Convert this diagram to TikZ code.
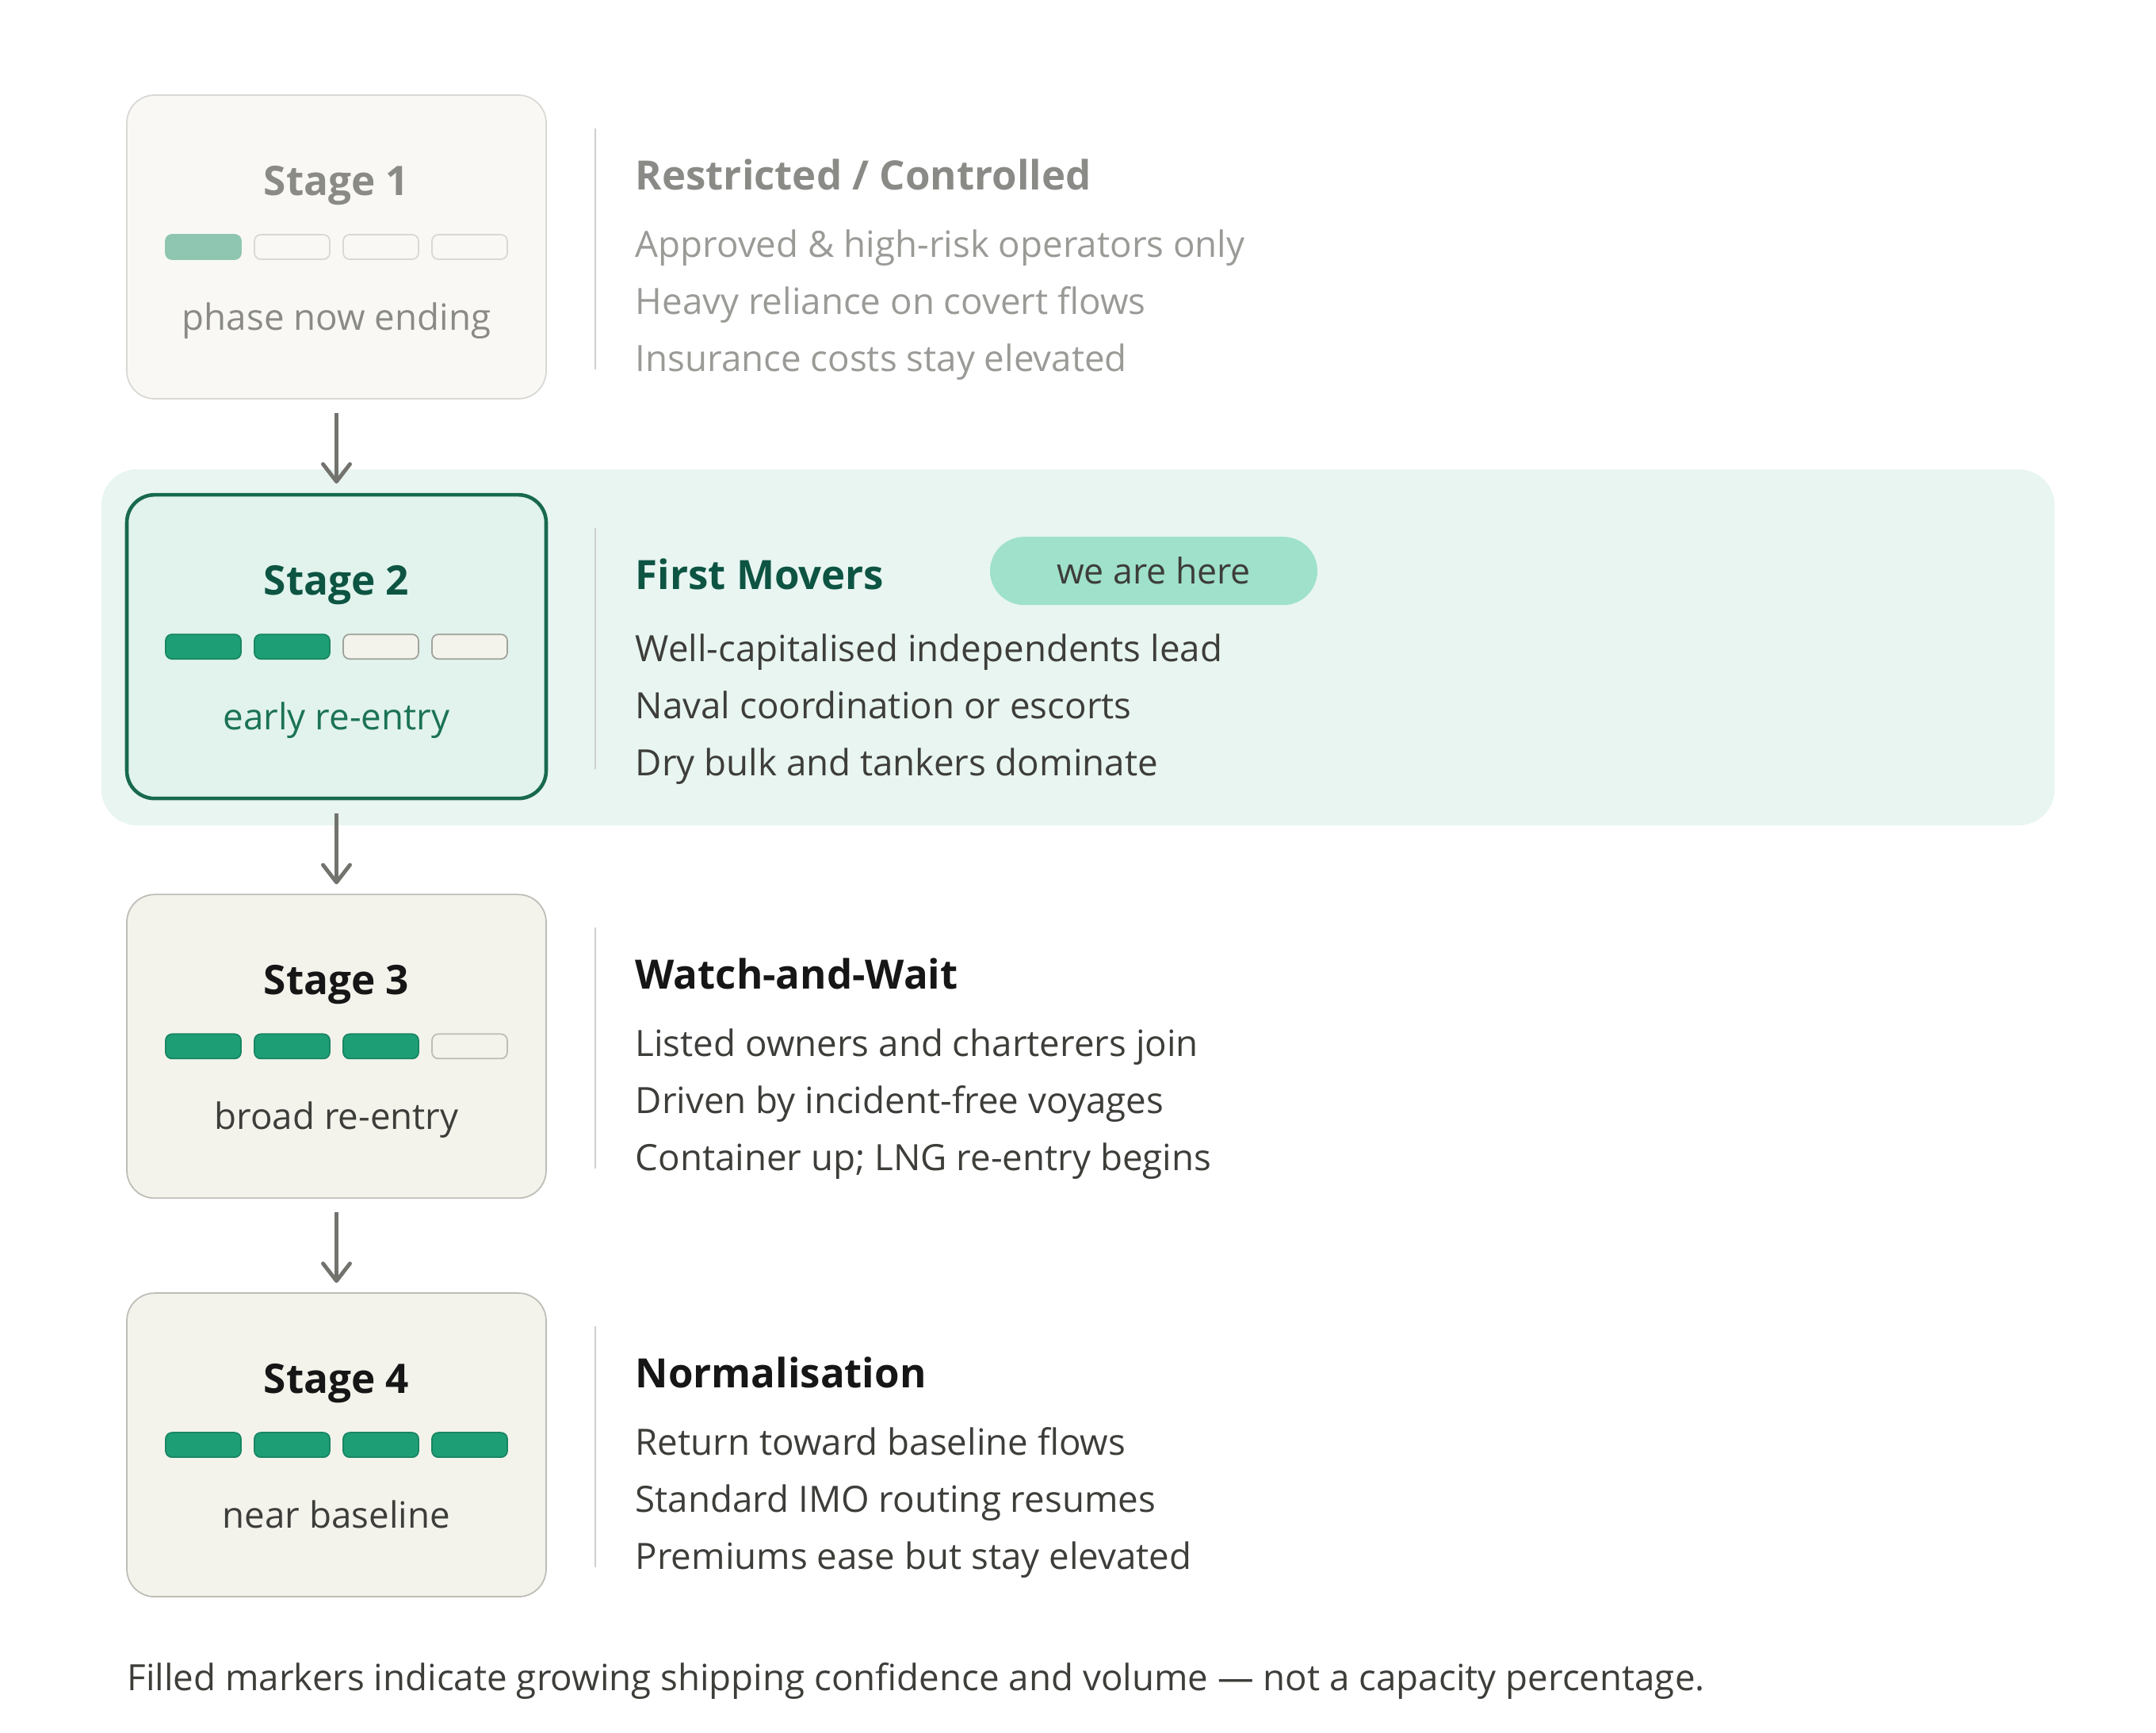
\documentclass[tikz,border=0pt]{standalone}
\usepackage{fontspec}
\setmainfont{Open Sans}
\usetikzlibrary{positioning,arrows.meta,calc,backgrounds}
\definecolor{bandbg}{HTML}{E8F5F0}
\definecolor{oldfill}{HTML}{F9F8F5}
\definecolor{oldline}{HTML}{D8D8D4}
\definecolor{oldtext}{HTML}{8A8A87}
\definecolor{oldbody}{HTML}{9A9A97}
\definecolor{nowfill}{HTML}{E1F3EC}
\definecolor{nowline}{HTML}{17694F}
\definecolor{nowtitle}{HTML}{0D5443}
\definecolor{nowsub}{HTML}{1B7257}
\definecolor{nextfill}{HTML}{F3F3EC}
\definecolor{nextline}{HTML}{BDBDB7}
\definecolor{darktext}{HTML}{161616}
\definecolor{bodytext}{HTML}{3D3D3A}
\definecolor{pipgreen}{HTML}{1E9E75}
\definecolor{piplight}{HTML}{8FC6B1}
\definecolor{pillbg}{HTML}{9FE1CB}
\definecolor{sepline}{HTML}{CFCFCB}
\definecolor{arrowgray}{HTML}{73736E}
\tikzset{
  stagebox/.style={draw=nextline,fill=nextfill,line width=0.5pt,rounded corners=3.5mm,
    minimum width=5.29cm,minimum height=3.83cm,inner sep=0pt},
  oldbox/.style={stagebox,draw=oldline,fill=oldfill},
  nowbox/.style={stagebox,draw=nowline,fill=nowfill,line width=1.3pt},
  pip/.style={draw=nextline,fill=nextfill,line width=0.5pt,rounded corners=0.8mm,
    minimum width=9.5mm,minimum height=3.1mm,inner sep=0pt,node distance=11.2mm,on grid},
  pipon/.style={pip,draw=pipgreen!85!black,fill=pipgreen},
  stitle/.style={anchor=base,font=\fontsize{14.6}{18}\selectfont\bfseries,text=darktext,inner sep=0pt},
  ssub/.style={anchor=base,font=\fontsize{13}{15}\selectfont,text=bodytext,inner sep=0pt},
  htitle/.style={anchor=base west,font=\fontsize{14.5}{18}\selectfont\bfseries,text=darktext,inner sep=0pt},
  hbody/.style={anchor=base west,align=left,font=\fontsize{13}{20.5}\selectfont,text=bodytext,inner sep=0pt},
  sep/.style={draw=sepline,line width=0.55pt},
  flow/.style={draw=arrowgray,line width=1.4pt,-{Straight Barb[round,length=2.2mm,width=3.4mm]},
    shorten <=1.7mm,shorten >=1.2mm},
}

\begin{document}
\begin{tikzpicture}
  \useasboundingbox (0,0) rectangle (27.2,-21.85);
  % stage boxes
  \node[oldbox] (s1) at (4.245,-3.115) {};
  \node[nowbox] (s2) [below=11.8mm of s1] {};
  \node[stagebox] (s3) [below=11.8mm of s2] {};
  \node[stagebox] (s4) [below=11.8mm of s3] {};
  \begin{scope}[on background layer]
    \fill[bandbg,rounded corners=4.5mm] (1.28,-5.92) rectangle (25.92,-10.41);
  \end{scope}
  \draw[flow] (s1) -- (s2);
  \draw[flow] (s2) -- (s3);
  \draw[flow] (s3) -- (s4);

  % stage 1
  \node[stitle,text=oldtext] (s1t) at ([yshift=6.55mm]s1.center) {Stage 1};
  \node[pipon,draw=piplight,fill=piplight] (s1p1) at ([xshift=-16.8mm]s1.center) {};
  \node[pip,draw=oldline,fill=oldfill] (s1p2) [right=of s1p1] {};
  \node[pip,draw=oldline,fill=oldfill] (s1p3) [right=of s1p2] {};
  \node[pip,draw=oldline,fill=oldfill] (s1p4) [right=of s1p3] {};
  \node[ssub,text=oldtext] (s1s) at ([yshift=-10.5mm]s1.center) {phase now ending};
  \draw[sep] ($(s1.center)+(3.265,1.50)$) -- ++(0,-3.04);
  \node[htitle,text=oldtext] (h1) at ($(s1.center)+(3.765,0.72)$) {Restricted / Controlled};
  \node[hbody,text=oldbody] (b1) at ($(s1.center)+(3.765,-1.57)$)
    {Approved \& high-risk operators only\\Heavy reliance on covert flows\\Insurance costs stay elevated};

  % stage 2
  \node[stitle,text=nowtitle] (s2t) at ([yshift=6.55mm]s2.center) {Stage 2};
  \node[pipon] (s2p1) at ([xshift=-16.8mm]s2.center) {};
  \node[pipon] (s2p2) [right=of s2p1] {};
  \node[pip,draw=nextline!85!black] (s2p3) [right=of s2p2] {};
  \node[pip,draw=nextline!85!black] (s2p4) [right=of s2p3] {};
  \node[ssub,text=nowsub] (s2s) at ([yshift=-10.5mm]s2.center) {early re-entry};
  \draw[sep] ($(s2.center)+(3.265,1.50)$) -- ++(0,-3.04);
  \node[htitle,text=nowtitle] (h2) at ($(s2.center)+(3.765,0.72)$) {First Movers};
  \node[fill=pillbg,rounded corners=4.3mm,minimum width=4.13cm,minimum height=8.6mm,
    font=\fontsize{12.7}{15}\selectfont,text=bodytext] (pill) at ($(s2.center)+(10.31,0.955)$) {\raisebox{-0.6mm}{we are here}};
  \node[hbody] (b2) at ($(s2.center)+(3.765,-1.63)$)
    {Well-capitalised independents lead\\Naval coordination or escorts\\Dry bulk and tankers dominate};

  % stage 3
  \node[stitle] (s3t) at ([yshift=6.55mm]s3.center) {Stage 3};
  \node[pipon] (s3p1) at ([xshift=-16.8mm]s3.center) {};
  \node[pipon] (s3p2) [right=of s3p1] {};
  \node[pipon] (s3p3) [right=of s3p2] {};
  \node[pip] (s3p4) [right=of s3p3] {};
  \node[ssub] (s3s) at ([yshift=-10.5mm]s3.center) {broad re-entry};
  \draw[sep] ($(s3.center)+(3.265,1.50)$) -- ++(0,-3.04);
  \node[htitle] (h3) at ($(s3.center)+(3.765,0.72)$) {Watch-and-Wait};
  \node[hbody] (b3) at ($(s3.center)+(3.765,-1.57)$)
    {Listed owners and charterers join\\Driven by incident-free voyages\\Container up; LNG re-entry begins};

  % stage 4
  \node[stitle] (s4t) at ([yshift=6.55mm]s4.center) {Stage 4};
  \node[pipon] (s4p1) at ([xshift=-16.8mm]s4.center) {};
  \node[pipon] (s4p2) [right=of s4p1] {};
  \node[pipon] (s4p3) [right=of s4p2] {};
  \node[pipon] (s4p4) [right=of s4p3] {};
  \node[ssub] (s4s) at ([yshift=-10.5mm]s4.center) {near baseline};
  \draw[sep] ($(s4.center)+(3.265,1.50)$) -- ++(0,-3.04);
  \node[htitle] (h4) at ($(s4.center)+(3.765,0.72)$) {Normalisation};
  \node[hbody] (b4) at ($(s4.center)+(3.765,-1.57)$)
    {Return toward baseline flows\\Standard IMO routing resumes\\Premiums ease but stay elevated};

  \node[anchor=base west,inner sep=0pt,font=\fontsize{13}{15}\selectfont,text=bodytext] (note) at (1.60,-21.32)
    {Filled markers indicate growing shipping confidence and volume — not a capacity percentage.};
\end{tikzpicture}
\end{document}
